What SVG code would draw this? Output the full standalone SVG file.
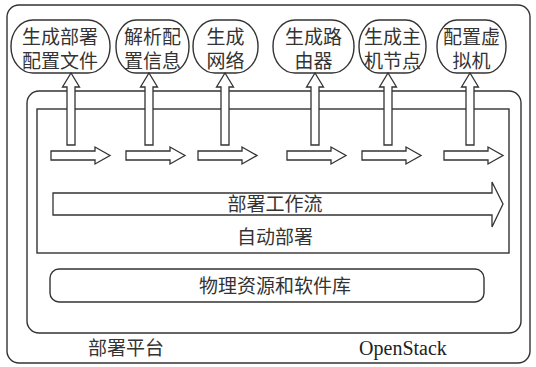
<svg xmlns="http://www.w3.org/2000/svg" width="536" height="367" viewBox="0 0 536 367">
<style>
.box{fill:none;stroke:#333;stroke-width:1.4}
.node{fill:#fff;stroke:#333;stroke-width:1.4}
.arr{fill:#fff;stroke:#333;stroke-width:1.3;stroke-linejoin:miter}
.t{font-family:"Liberation Serif","Noto Sans CJK SC",serif;font-size:19px;fill:#333;text-anchor:middle}
.e{font-family:"Liberation Serif",serif;font-size:20px;fill:#222;text-anchor:middle}
</style>
<rect width="536" height="367" fill="#fff"/>
<g id="platform">
<rect class="box" x="7" y="5" width="523" height="358" rx="12"/>
<text class="t" x="126" y="355">部署平台</text>
</g>
<g id="openstack">
<rect class="box" x="27" y="91" width="494" height="242" rx="12"/>
<text class="e" x="403" y="355">OpenStack</text>
</g>
<g id="auto-deploy">
<rect class="box" x="37" y="109" width="472" height="144"/>
<text class="t" x="275" y="244">自动部署</text>
</g>
<g id="workflow">
<path class="arr" d="M53,193 H492 V182 L503,204 L492,227 V215 H53 Z"/>
<text class="t" x="275" y="211">部署工作流</text>
</g>
<g id="resources">
<rect class="box" x="50" y="269" width="434" height="33" rx="9"/>
<text class="t" x="275" y="293">物理资源和软件库</text>
</g>
<g id="n1">
<rect class="node" x="11" y="20" width="99" height="53" rx="22" ry="26"/>
<text class="t" x="60" y="44">生成部署</text>
<text class="t" x="60" y="68">配置文件</text>
</g>
<g id="n2">
<rect class="node" x="116" y="20" width="73" height="53" rx="20" ry="26"/>
<text class="t" x="152.5" y="44">解析配</text>
<text class="t" x="152.5" y="68">置信息</text>
</g>
<g id="n3">
<rect class="node" x="193" y="20" width="65" height="53" rx="22" ry="26"/>
<text class="t" x="225.5" y="44">生成</text>
<text class="t" x="225.5" y="68">网络</text>
</g>
<g id="n4">
<rect class="node" x="273" y="20" width="81" height="53" rx="22" ry="26"/>
<text class="t" x="313.5" y="44">生成路</text>
<text class="t" x="313.5" y="68">由器</text>
</g>
<g id="n5">
<rect class="node" x="359" y="20" width="67" height="53" rx="20" ry="26"/>
<text class="t" x="392.5" y="44">生成主</text>
<text class="t" x="392.5" y="68">机节点</text>
</g>
<g id="n6">
<rect class="node" x="437" y="20" width="69" height="53" rx="20" ry="26"/>
<text class="t" x="471.5" y="44">配置虚</text>
<text class="t" x="471.5" y="68">拟机</text>
</g>
<g id="connectors">
<path class="arr" d="M67,145 V87 H62.5 L71,73 L79.5,87 H75 V145 Z"/>
<path class="arr" d="M145,145 V87 H140.5 L149,73 L157.5,87 H153 V145 Z"/>
<path class="arr" d="M221,145 V87 H216.5 L225,73 L233.5,87 H229 V145 Z"/>
<path class="arr" d="M311,145 V87 H306.5 L315,73 L323.5,87 H319 V145 Z"/>
<path class="arr" d="M384,145 V87 H379.5 L388,73 L396.5,87 H392 V145 Z"/>
<path class="arr" d="M466,145 V87 H461.5 L470,73 L478.5,87 H474 V145 Z"/>
<path class="arr" d="M51,151 H95 V147 L110,155.5 L95,164 V160 H51 Z"/>
<path class="arr" d="M126,151 H170 V147 L185,155.5 L170,164 V160 H126 Z"/>
<path class="arr" d="M198,151 H242 V147 L257,155.5 L242,164 V160 H198 Z"/>
<path class="arr" d="M287,151 H331 V147 L346,155.5 L331,164 V160 H287 Z"/>
<path class="arr" d="M362,151 H406 V147 L421,155.5 L406,164 V160 H362 Z"/>
<path class="arr" d="M444,151 H488 V147 L503,155.5 L488,164 V160 H444 Z"/>
</g>
</svg>
